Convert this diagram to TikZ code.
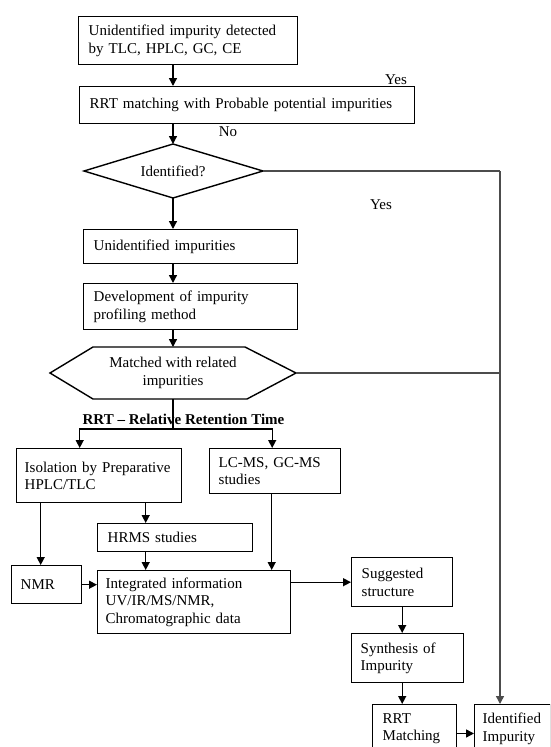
\documentclass[tikz,border=0pt]{standalone}
\usepackage{fontspec}
\setmainfont{Liberation Serif}
\usetikzlibrary{arrows.meta,calc}
\begin{document}
\begin{tikzpicture}[x=1pt,y=-1pt,
  font=\fontsize{15}{17.5}\selectfont,
  box/.style={draw, line width=1.4pt, anchor=north west, align=left, inner xsep=10pt, inner ysep=0pt},
  arr/.style={line width=1.4pt, -{Triangle[length=8pt,width=8pt]}},
  ln/.style={line width=1.4pt},
  gry/.style={black!70}]
\clip (0,0) rectangle (550,747);
% top boxes
\node[box, text width=199pt, minimum height=48pt] (b1) at (78,16) {Unidentified impurity detected\\by TLC, HPLC, GC, CE};
\node[box, text width=315pt, minimum height=37pt] (b2) at (79,86) {RRT matching with Probable potential impurities};
% diamond
\coordinate (dT) at (173,144);
\coordinate (dB) at (173,198);
\coordinate (dL) at (84,171);
\coordinate (dR) at (263,171);
\node (idq) at (173,171) {Identified?};
\draw[ln] (dT) -- (dR) -- (dB) -- (dL) -- cycle;
\node[box, text width=194pt, minimum height=34pt] (unid) at (83,229) {Unidentified impurities};
\node[box, text width=194pt, minimum height=46pt] (dev) at (83,283) {Development of impurity\\profiling method};
% hexagon
\coordinate (hT) at (173,347);
\coordinate (hB) at (173,399);
\coordinate (hR) at (296,373);
\node[align=center] (hex) at (173,373) {Matched with related\\impurities};
\draw[ln] (50,373) -- (93,347) -- (245,347) -- (hR) -- (247,399) -- (93,399) -- cycle;
% labels
\node (yes1) at (396,80) {Yes};
\node (no1) at (228,132) {No};
\node (yes2) at (381,205) {Yes};
\node (rrtlab) at (183.5,419) {\textbf{RRT – Relative Retention Time}};
% lower boxes
\node[box, inner xsep=8pt, text width=149pt, minimum height=54pt] (iso) at (16,448) {Isolation by Preparative\\HPLC/TLC};
\node[box, inner xsep=9pt, text width=113pt, minimum height=45pt] (lcms) at (209,448) {LC-MS, GC-MS\\studies};
\node[box, text width=135pt, minimum height=28pt] (hrms) at (97,523) {HRMS studies};
\node[box, inner xsep=9pt, text width=52pt, minimum height=38pt] (nmr) at (11,565) {NMR};
\node[box, inner xsep=8pt, text width=177pt, minimum height=63pt] (integ) at (97,570) {Integrated information\\UV/IR/MS/NMR,\\Chromatographic data};
\node[box, inner xsep=10pt, text width=81pt, minimum height=49pt] (sugg) at (351,557) {Suggested\\structure};
\node[box, inner xsep=9pt, text width=94pt, minimum height=49pt] (synth) at (351,633) {Synthesis of\\Impurity};
\node[box, inner xsep=10pt, inner ysep=8.5pt, text width=64pt] (rrtm) at (372,704) {RRT\\Matching};
\node[box, inner xsep=8pt, inner ysep=8.5pt, text width=60pt] (ident) at (474,704) {Identified\\Impurity};
% main flow
\draw[arr] (b1.south -| dT) -- (b2.north -| dT);
\draw[arr] (b2.south -| dT) -- (dT);
\draw[arr] (dB) -- (unid.north -| dB);
\draw[arr] (unid.south -| dB) -- (dev.north -| dB);
\draw[arr] (dev.south -| dB) -- (hT);
\coordinate (sp) at (173,429);
\draw[ln] (hB) -- (sp);
\draw[arr] (sp) -| ([xshift=-19.5pt]iso.north);
\draw[arr] (sp) -| ([xshift=-3pt]lcms.north);
% right yes line
\coordinate (rc) at (500,171);
\draw[ln, gry] (dR) -- (rc);
\draw[ln, gry] (hR) -- (hR -| rc);
\draw[arr, gry] (rc) -- (rc |- ident.north);
% lower connectors
\coordinate (xa) at ([xshift=-6pt]nmr.north);
\draw[arr] (iso.south -| xa) -- (xa);
\coordinate (xb) at ([xshift=-29.5pt]hrms.north);
\draw[arr] (iso.south -| xb) -- (xb);
\draw[arr] (hrms.south -| xb) -- (integ.north -| xb);
\coordinate (xc) at ([xshift=-3.5pt]lcms.south);
\draw[arr] (xc) -- (integ.north -| xc);
\draw[arr] (nmr.east) -- (nmr.east -| integ.west);
\draw[arr] (integ.east |- sugg.west) -- (sugg.west);
\draw[arr] (sugg.south) -- (sugg.south |- synth.north);
\draw[arr] (sugg.south |- synth.south) -- (sugg.south |- rrtm.north);
\coordinate (rm) at ([yshift=-5pt]rrtm.east);
\draw[arr] (rm) -- (rm -| ident.west);
\end{tikzpicture}
\end{document}
